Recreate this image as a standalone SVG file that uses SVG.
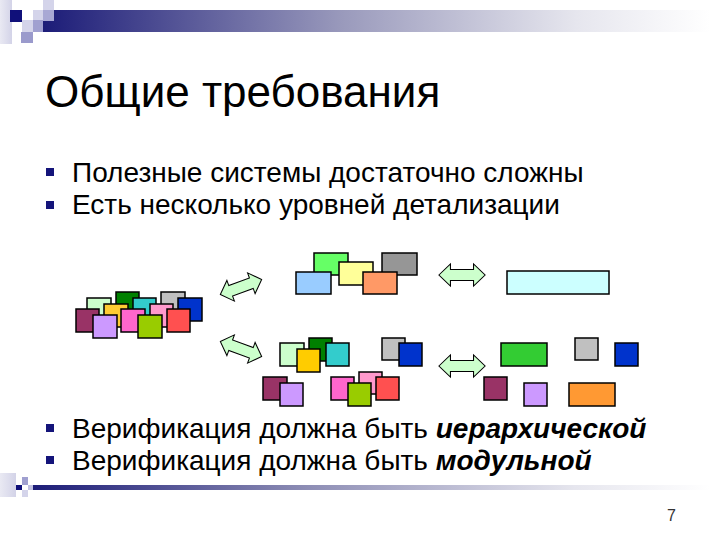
<svg xmlns="http://www.w3.org/2000/svg" width="720" height="540" viewBox="0 0 720 540">
<defs>
<linearGradient id="barTop" x1="0" y1="0" x2="1" y2="0">
<stop offset="0" stop-color="#1c1c78"/>
<stop offset="0.45" stop-color="#9a9abc"/>
<stop offset="0.8" stop-color="#e6e6ee"/>
<stop offset="1" stop-color="#ffffff"/>
</linearGradient>
<linearGradient id="barBot" x1="0" y1="0" x2="1" y2="0">
<stop offset="0" stop-color="#1c1c78"/>
<stop offset="0.4" stop-color="#8c8cb4"/>
<stop offset="0.8" stop-color="#e6e6ee"/>
<stop offset="1" stop-color="#ffffff"/>
</linearGradient>
<linearGradient id="leftFade" x1="0" y1="0" x2="1" y2="0">
<stop offset="0" stop-color="#e4e4f0"/>
<stop offset="1" stop-color="#c8c8e2"/>
</linearGradient>
<path id="dbl" d="M-22,0 L-11,-11 L-11,-5.5 L11,-5.5 L11,-11 L22,0 L11,11 L11,5.5 L-11,5.5 L-11,11 Z"/>
</defs>
<style>
text{font-family:"Liberation Sans",Arial,sans-serif;fill:#000}
.title{font-size:44px}
.body{font-size:28px}
.bi{font-weight:bold;font-style:italic}
.blt{fill:#14147a}
.b{stroke:#000;stroke-width:1.5}
.arrow{fill:#ccffcc;stroke:#000;stroke-width:1}
.num{font-size:16px;fill:#333}
</style>
<rect width="720" height="540" fill="#fff"/>
<g id="decor-top">
<rect x="0" y="0" width="12" height="44" fill="url(#leftFade)" opacity="0.8"/>
<rect x="43" y="10" width="667" height="22" fill="url(#barTop)"/>
<rect x="10" y="10" width="12" height="12" fill="#10107a"/>
<rect x="22" y="20" width="11" height="12" fill="#d4d4ea"/>
<rect x="33" y="10" width="10" height="10" fill="#d4d4ea"/>
<rect x="33" y="20" width="10" height="12" fill="#a0a0d0"/>
<rect x="43" y="0" width="11" height="10" fill="#d4d4ea"/>
<rect x="43" y="10" width="11" height="11" fill="#a8a8d4"/>
<rect x="21" y="32" width="12" height="11" fill="#9a9acc"/>
</g>
<g id="decor-bottom">
<rect x="0" y="473" width="16" height="24" fill="url(#leftFade)" opacity="0.8"/>
<rect x="33" y="485" width="677" height="5" fill="url(#barBot)"/>
<rect x="16" y="485" width="6" height="5" fill="#10107a"/>
<rect x="22" y="477" width="6" height="8" fill="#a0a0d0"/>
<rect x="22" y="490" width="6" height="7" fill="#d4d4ea"/>
<rect x="28" y="485" width="5" height="5" fill="#c0c0e0"/>
</g>
<g id="title"><text class="title" x="45" y="107">Общие требования</text></g>
<g id="bullets-top">
<rect class="blt" x="46" y="168" width="8" height="8"/>
<text class="body" x="72" y="182">Полезные системы достаточно сложны</text>
<rect class="blt" x="46" y="201" width="8" height="8"/>
<text class="body" x="72" y="214">Есть несколько уровней детализации</text>
</g>
<g id="cluster-left" class="b">
<rect x="87" y="298" width="24" height="23" fill="#ccffcc"/>
<rect x="116" y="292" width="23" height="23" fill="#008000"/>
<rect x="133" y="298" width="23" height="23" fill="#33cccc"/>
<rect x="161" y="292" width="24" height="23" fill="#c0c0c0"/>
<rect x="178" y="298" width="24" height="23" fill="#0033cc"/>
<rect x="104" y="304" width="24" height="23" fill="#ffcc33"/>
<rect x="150" y="304" width="23" height="23" fill="#ff99cc"/>
<rect x="76" y="309" width="23" height="23" fill="#993366"/>
<rect x="121" y="309" width="24" height="23" fill="#ff66cc"/>
<rect x="167" y="309" width="23" height="23" fill="#ff5050"/>
<rect x="93" y="315" width="24" height="23" fill="#cc99ff"/>
<rect x="138" y="315" width="24" height="23" fill="#99cc00"/>
</g>
<g id="connectors">
<use href="#dbl" class="arrow" transform="translate(241,287) rotate(-20)"/>
<use href="#dbl" class="arrow" transform="translate(241,349) rotate(20)"/>
<use href="#dbl" class="arrow" transform="translate(462,275) scale(1.05,1)"/>
<use href="#dbl" class="arrow" transform="translate(462,366) scale(1.05,1)"/>
</g>
<g id="group-top-mid" class="b">
<rect x="314" y="253" width="34" height="22" fill="#66ff66"/>
<rect x="296" y="272" width="35" height="22" fill="#99ccff"/>
<rect x="339" y="262" width="34" height="23" fill="#ffff99"/>
<rect x="382" y="253" width="35" height="22" fill="#969696"/>
<rect x="363" y="272" width="34" height="22" fill="#ff9966"/>
</g>
<g id="block-top-right" class="b">
<rect x="507" y="271" width="102" height="23" fill="#ccffff"/>
</g>
<g id="group-bottom-mid" class="b">
<rect x="280" y="343" width="24" height="23" fill="#ccffcc"/>
<rect x="309" y="338" width="23" height="23" fill="#008000"/>
<rect x="326" y="343" width="23" height="23" fill="#33cccc"/>
<rect x="297" y="349" width="23" height="23" fill="#ffcc00"/>
<rect x="382" y="338" width="23" height="22" fill="#c0c0c0"/>
<rect x="399" y="343" width="23" height="23" fill="#0033cc"/>
<rect x="263" y="377" width="24" height="23" fill="#993366"/>
<rect x="280" y="383" width="23" height="23" fill="#cc99ff"/>
<rect x="331" y="377" width="23" height="23" fill="#ff66cc"/>
<rect x="359" y="372" width="23" height="22" fill="#ff99cc"/>
<rect x="376" y="377" width="23" height="23" fill="#ff5050"/>
<rect x="348" y="383" width="23" height="23" fill="#99cc00"/>
</g>
<g id="group-bottom-right" class="b">
<rect x="501" y="343" width="46" height="23" fill="#33cc33"/>
<rect x="575" y="338" width="23" height="22" fill="#c0c0c0"/>
<rect x="615" y="343" width="23" height="23" fill="#0033cc"/>
<rect x="484" y="377" width="23" height="23" fill="#993366"/>
<rect x="524" y="383" width="23" height="23" fill="#cc99ff"/>
<rect x="569" y="383" width="46" height="23" fill="#ff9933"/>
</g>
<g id="bullets-bottom">
<rect class="blt" x="46" y="424" width="8" height="8"/>
<text class="body" x="72" y="438">Верификация должна быть <tspan class="bi">иерархической</tspan></text>
<rect class="blt" x="46" y="456" width="8" height="8"/>
<text class="body" x="72" y="470">Верификация должна быть <tspan class="bi">модульной</tspan></text>
</g>
<text class="num" x="667" y="521">7</text>
</svg>
